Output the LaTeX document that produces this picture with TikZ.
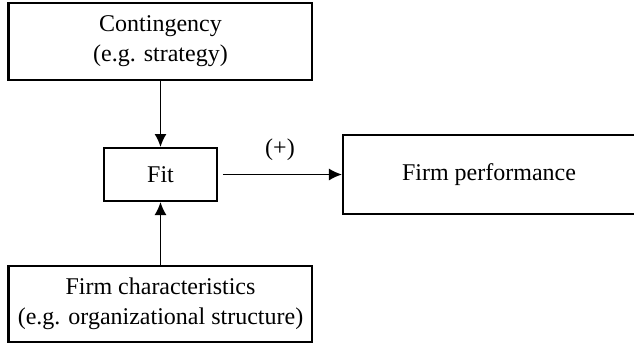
\documentclass[tikz,border=0pt]{standalone}
\usepackage{fontspec}
\setmainfont{Liberation Serif}
\usepackage{tikz}
\usetikzlibrary{arrows.meta, positioning}

\begin{document}
\begin{tikzpicture}[
    node distance=33pt and 62pt,
    every node/.style={align=center, font=\fontsize{12}{15}\selectfont},
    caja/.style={rectangle, draw, line width=1pt, inner sep=2pt},
    flecha/.style={-{Latex[length=6.5pt, width=6pt]}, line width=0.8pt}
]
    \useasboundingbox (0,0) rectangle (317pt,-172pt);
    \node[caja, minimum width=56.5pt, minimum height=26.5pt] (fit) at (80.25pt,-87.25pt) {Fit};
    \node[caja, minimum width=152pt, minimum height=38.5pt, above=33pt of fit] (cont)
        {Contingency\\ (e.g. strategy)};
    \node[caja, minimum width=152pt, minimum height=38pt, below=31.5pt of fit] (carac)
        {Firm characteristics\\ (e.g. organizational structure)};
    \node[caja, minimum width=146pt, minimum height=39.5pt, right=62pt of fit] (perf)
        {Firm performance};

    \draw[flecha] (cont) -- (fit);
    \draw[flecha] (carac) -- (fit);
    \draw[flecha, shorten <=2.5pt] (fit) -- node[midway, above=3pt]{(+)} (perf);
\end{tikzpicture}
\end{document}
